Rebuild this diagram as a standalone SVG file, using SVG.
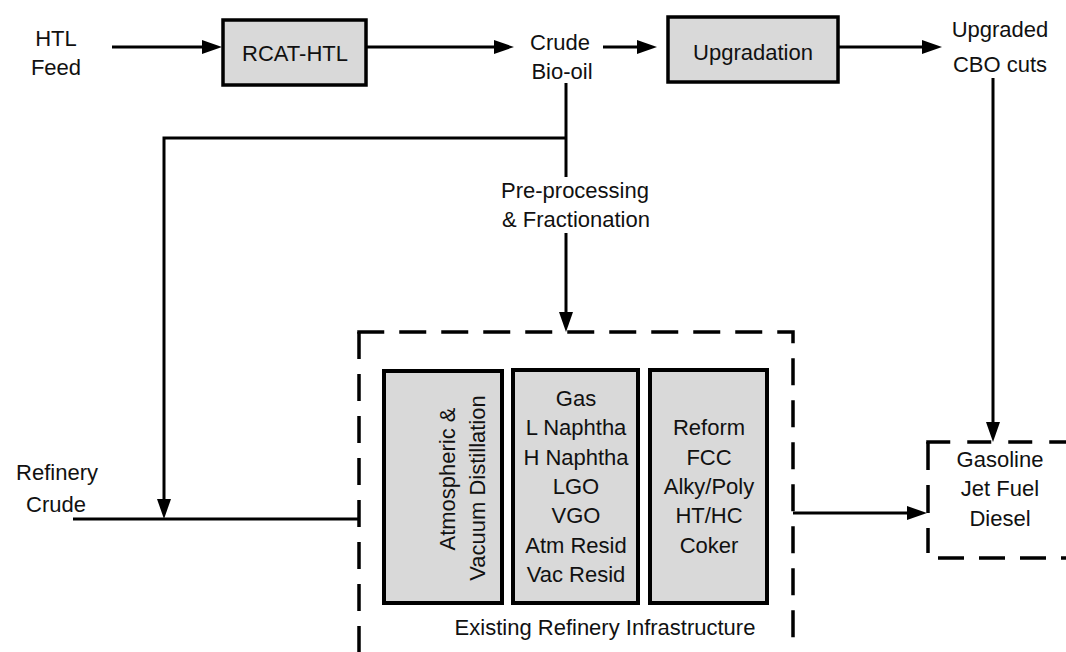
<svg xmlns="http://www.w3.org/2000/svg" width="1066" height="652" viewBox="0 0 1066 652">
<style>
text{font-family:"Liberation Sans",Arial,sans-serif;font-size:22px;fill:#111;text-anchor:middle}
.ib text{font-size:22px}
.box{fill:#d9d9d9;stroke:#000;stroke-width:3.5}
.ibox{fill:#d9d9d9;stroke:#000;stroke-width:4}
.ln{fill:none;stroke:#000;stroke-width:3}
.dash{fill:none;stroke:#000;stroke-width:3.5;stroke-dasharray:27 15}
</style>
<defs>
<marker id="ah" viewBox="0 0 20 14" refX="14" refY="7" markerWidth="20" markerHeight="14" markerUnits="userSpaceOnUse" orient="auto">
<path d="M0,0 L20,7 L0,14 Z" fill="#000"/>
</marker>
</defs>
<rect width="1066" height="652" fill="#fff"/>

<g id="htl-feed"><text x="56" y="46">HTL</text><text x="56" y="75">Feed</text></g>
<g id="rcat-htl"><rect class="box" x="223" y="20" width="143" height="65"/><text x="295" y="61">RCAT-HTL</text></g>
<g id="crude-bio-oil"><text x="560" y="50">Crude</text><text x="562" y="79">Bio-oil</text></g>
<g id="upgradation"><rect class="box" x="668" y="17" width="170" height="65"/><text x="753" y="60">Upgradation</text></g>
<g id="upgraded-cbo"><text x="1000" y="37">Upgraded</text><text x="1000" y="72">CBO cuts</text></g>
<g id="preprocessing"><text x="575" y="198">Pre-processing</text><text x="576" y="227">&amp; Fractionation</text></g>
<g id="refinery-crude"><text x="57" y="480">Refinery</text><text x="56" y="512">Crude</text></g>

<g id="existing-refinery">
<path class="dash" d="M359,332 V652"/>
<path class="dash" d="M357.25,332 H793 V652"/>
<text x="605" y="635">Existing Refinery Infrastructure</text>
</g>
<g id="distillation" class="ib"><rect class="ibox" x="384" y="371" width="118" height="232"/>
<text transform="translate(455,479) rotate(-90)">Atmospheric &amp;</text>
<text transform="translate(485,488) rotate(-90)">Vacuum Distillation</text></g>
<g id="fractions" class="ib"><rect class="ibox" x="513" y="370" width="125" height="233"/>
<text x="576" y="406">Gas</text><text x="576" y="435">L Naphtha</text><text x="576" y="465">H Naphtha</text><text x="576" y="494">LGO</text><text x="576" y="523">VGO</text><text x="576" y="553">Atm Resid</text><text x="576" y="582">Vac Resid</text></g>
<g id="units" class="ib"><rect class="ibox" x="650" y="370" width="117" height="233"/>
<text x="709" y="435">Reform</text><text x="709" y="465">FCC</text><text x="709" y="494">Alky/Poly</text><text x="709" y="523">HT/HC</text><text x="709" y="553">Coker</text></g>

<g id="fuels">
<path fill="none" stroke="#000" stroke-width="3.5" stroke-dasharray="24 17" d="M926.25,442 H1070"/>
<path fill="none" stroke="#000" stroke-width="3.5" stroke-dasharray="28 15" d="M928,442 V553"/>
<path fill="none" stroke="#000" stroke-width="3.5" stroke-dasharray="26 15" d="M938,558 H1070"/>
<text x="1000" y="467">Gasoline</text><text x="1000" y="496">Jet Fuel</text><text x="1000" y="526">Diesel</text>
</g>

<g id="connectors">
<path class="ln" d="M112,47 H216" marker-end="url(#ah)"/>
<path class="ln" d="M366,47 H508" marker-end="url(#ah)"/>
<path class="ln" d="M603,47 H651" marker-end="url(#ah)"/>
<path class="ln" d="M838,47 H936" marker-end="url(#ah)"/>
<path class="ln" d="M993,78 V436" marker-end="url(#ah)"/>
<path class="ln" d="M566,83 V177"/>
<path class="ln" d="M566,233 V326" marker-end="url(#ah)"/>
<path class="ln" d="M566,138 H164 V513" marker-end="url(#ah)"/>
<path class="ln" d="M73,519 H359"/>
<path class="ln" d="M793,513 H921" marker-end="url(#ah)"/>
</g>
</svg>
